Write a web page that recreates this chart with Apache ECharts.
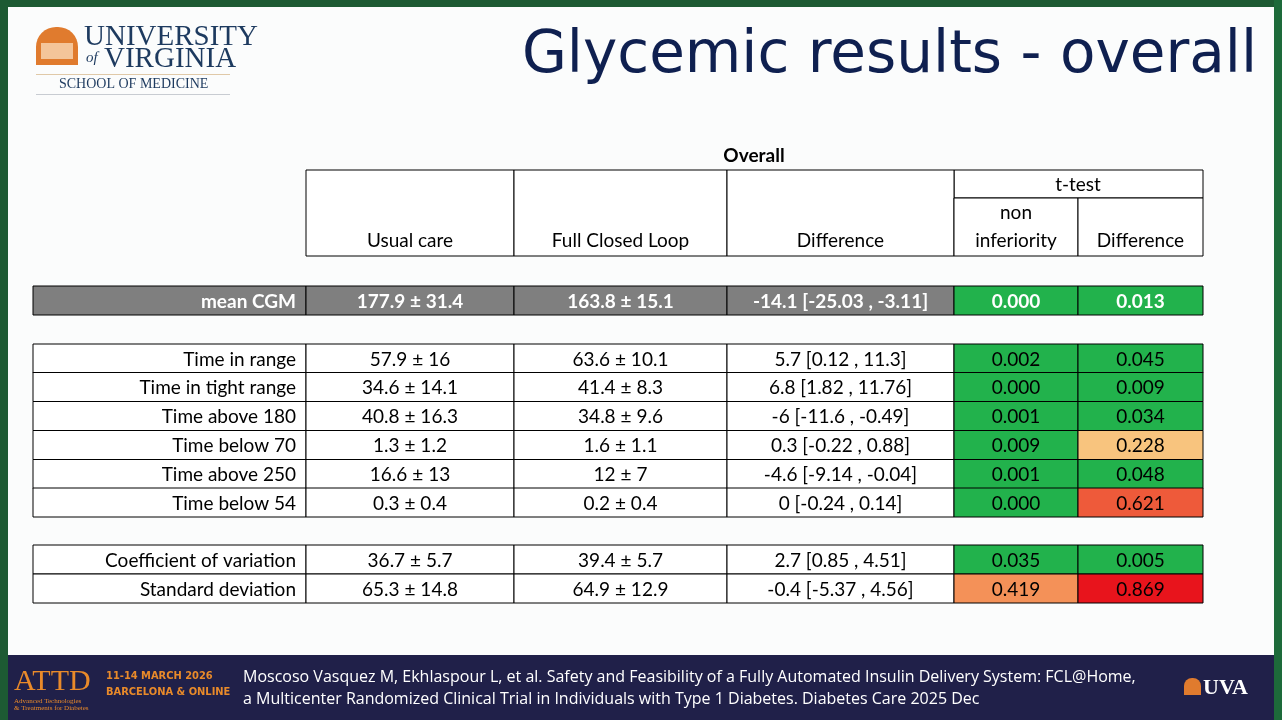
<!DOCTYPE html>
<html><head><meta charset="utf-8">
<script src="https://cdn.jsdelivr.net/npm/echarts@6/dist/echarts.min.js"></script>
<style>html,body{margin:0;padding:0;background:#fff}#main{width:1282px;height:720px}</style>
</head><body><div id="main"></div>
<script>
// table values
var rowLabels = ['mean CGM', 'Time in range', 'Time in tight range', 'Time above 180', 'Time below 70',
  'Time above 250', 'Time below 54', 'Coefficient of variation', 'Standard deviation'];
var usualCare = ['177.9 ± 31.4', '57.9 ± 16', '34.6 ± 14.1', '40.8 ± 16.3', '1.3 ± 1.2', '16.6 ± 13', '0.3 ± 0.4', '36.7 ± 5.7', '65.3 ± 14.8'];
var fullClosedLoop = ['163.8 ± 15.1', '63.6 ± 10.1', '41.4 ± 8.3', '34.8 ± 9.6', '1.6 ± 1.1', '12 ± 7', '0.2 ± 0.4', '39.4 ± 5.7', '64.9 ± 12.9'];
var difference = ['-14.1 [-25.03 , -3.11]', '5.7 [0.12 , 11.3]', '6.8 [1.82 , 11.76]', '-6 [-11.6 , -0.49]', '0.3 [-0.22 , 0.88]',
  '-4.6 [-9.14 , -0.04]', '0 [-0.24 , 0.14]', '2.7 [0.85 , 4.51]', '-0.4 [-5.37 , 4.56]'];
var pNonInferiority = ['0.000', '0.002', '0.000', '0.001', '0.009', '0.001', '0.000', '0.035', '0.419'];
var pDifference = ['0.013', '0.045', '0.009', '0.034', '0.228', '0.048', '0.621', '0.005', '0.869'];

// layout
var colEdges = [33, 306, 514, 727, 954, 1078, 1203];
var rowTops = [286, 344, 372.5, 401.5, 430.5, 459.5, 488, 545, 574];
var rowH = 29;
var FONT = 'Lato';

function pColor(p) {
  p = parseFloat(p);
  if (p < 0.05) return '#22b24c';
  if (p < 0.3) return '#f8c47e';
  if (p < 0.5) return '#f49158';
  if (p < 0.7) return '#ee5a3a';
  return '#e8141c';
}

var cellData = [];
rowLabels.forEach(function (r, i) {
  var vals = [r, usualCare[i], fullClosedLoop[i], difference[i], pNonInferiority[i], pDifference[i]];
  vals.forEach(function (v, j) { cellData.push([j, i, v]); });
});

var headerData = [
  [1, 'Usual care'], [2, 'Full Closed Loop'], [3, 'Difference'], [4, 'non\ninferiority'], [5, 'Difference']
];

function renderCell(params, api) {
  var c = api.value(0), r = api.value(1), txt = cellData[params.dataIndex][2];
  var p0 = api.coord([colEdges[c], rowTops[r]]);
  var p1 = api.coord([colEdges[c + 1], rowTops[r] + rowH]);
  var fill = '#fff', color = '#000', bold = 'normal';
  if (r === 0) { fill = '#7f7f7f'; color = '#fff'; bold = 'bold'; }
  if (c === 4) fill = pColor(pNonInferiority[r]);
  if (c === 5) fill = pColor(pDifference[r]);
  var w = p1[0] - p0[0], h = p1[1] - p0[1];
  return {
    type: 'group', children: [
      { type: 'rect', shape: { x: p0[0], y: p0[1], width: w, height: h },
        style: { fill: fill, stroke: '#000', lineWidth: 1 } },
      { type: 'text', style: {
        text: txt, x: c === 0 ? p1[0] - 10 : p0[0] + w / 2, y: p0[1] + h / 2 + 1,
        align: c === 0 ? 'right' : 'center', verticalAlign: 'middle',
        font: bold + ' 19px ' + FONT, fill: color } }
    ]
  };
}

function renderHeader(params, api) {
  var c = headerData[params.dataIndex][0], txt = headerData[params.dataIndex][1];
  var top = c >= 4 ? 198 : 170;
  var p0 = api.coord([colEdges[c], top]);
  var p1 = api.coord([colEdges[c + 1], 256]);
  var w = p1[0] - p0[0];
  return {
    type: 'group', children: [
      { type: 'rect', shape: { x: p0[0], y: p0[1], width: w, height: p1[1] - p0[1] },
        style: { fill: '#fff', stroke: '#000', lineWidth: 1 } },
      { type: 'text', style: { text: txt, x: p0[0] + w / 2, y: p1[1] - 1, align: 'center',
        verticalAlign: 'bottom', font: '19px ' + FONT, fill: '#000', lineHeight: 28 } }
    ]
  };
}

var myChart = echarts.init(document.getElementById('main'));
var option = {
  backgroundColor: '#fbfcfc',
  animation: false,
  grid: { left: 0, right: 0, top: 0, bottom: 0 },
  xAxis: { type: 'value', min: 0, max: 1282, show: false },
  yAxis: { type: 'value', min: 0, max: 720, inverse: true, show: false },
  graphic: [
    // frame
    { type: 'rect', shape: { x: 0, y: 0, width: 1282, height: 7 }, style: { fill: '#1d5a33' } },
    { type: 'rect', shape: { x: 0, y: 0, width: 8, height: 720 }, style: { fill: '#1d5a33' } },
    { type: 'rect', shape: { x: 1274, y: 0, width: 8, height: 720 }, style: { fill: '#1d6a3a' } },
    // logo
    { type: 'group', left: 36, top: 23, children: [
      { type: 'rect', shape: { x: 0, y: 4, width: 42, height: 38, r: [20, 20, 0, 0] }, style: { fill: '#e07b2e' } },
      { type: 'rect', shape: { x: 5, y: 20, width: 32, height: 16 }, style: { fill: '#f4c59a' } },
      { type: 'text', style: { text: 'UNIVERSITY', x: 48, y: 0, font: '29px "Liberation Serif"', fill: '#1d3a5f' } },
      { type: 'text', style: { text: 'of', x: 50, y: 28, font: 'italic 15px "Liberation Serif"', fill: '#1d3a5f' } },
      { type: 'text', style: { text: 'VIRGINIA', x: 68, y: 22, font: '29px "Liberation Serif"', fill: '#1d3a5f' } },
      { type: 'rect', shape: { x: 0, y: 51, width: 194, height: 1 }, style: { fill: '#e0c9a8' } },
      { type: 'text', style: { text: 'SCHOOL OF MEDICINE', x: 23, y: 54, font: '14px "Liberation Serif"', fill: '#1d3a5f' } },
      { type: 'rect', shape: { x: 0, y: 71, width: 194, height: 1 }, style: { fill: '#c8ccd2' } }
    ] },
    // title
    { type: 'text', style: { text: 'Glycemic results - overall', x: 1257, y: 57, align: 'right', verticalAlign: 'middle',
      font: '58px "DejaVu Sans"', fill: '#0f2050' } },
    { type: 'text', style: { text: 'Overall', x: 754, y: 156, align: 'center', verticalAlign: 'middle',
      font: 'bold 19px ' + FONT, fill: '#000' } },
    { type: 'rect', shape: { x: 954, y: 170, width: 249, height: 28 }, style: { fill: '#fff', stroke: '#000', lineWidth: 1 } },
    { type: 'text', style: { text: 't-test', x: 1078, y: 185, align: 'center', verticalAlign: 'middle', font: '19px ' + FONT, fill: '#000' } },
    // footer
    { type: 'rect', shape: { x: 8, y: 655, width: 1266, height: 65 }, style: { fill: '#202049' } },
    { type: 'text', style: { text: 'ATTD', x: 14, y: 667, font: '30px "Liberation Serif"', fill: '#e98a2a' } },
    { type: 'text', style: { text: 'Advanced Technologies\n& Treatments for Diabetes', x: 14, y: 698, font: '7px "Liberation Serif"', fill: '#e98a2a' } },
    { type: 'text', style: { text: '11-14 MARCH 2026\nBARCELONA & ONLINE', x: 106, y: 684, verticalAlign: 'middle', lineHeight: 16,
      font: 'bold 11px "DejaVu Sans Condensed"', fill: '#e98a2a' } },
    { type: 'text', style: { text: 'Moscoso Vasquez M, Ekhlaspour L, et al. Safety and Feasibility of a Fully Automated Insulin Delivery System: FCL@Home,\na Multicenter Randomized Clinical Trial in Individuals with Type 1 Diabetes. Diabetes Care 2025 Dec',
      x: 243, y: 688, verticalAlign: 'middle', lineHeight: 22, font: '16px "Open Sans"', fill: '#fff' } },
    { type: 'rect', shape: { x: 1184, y: 678, width: 17, height: 17, r: [8, 8, 0, 0] }, style: { fill: '#e07b2e' } },
    { type: 'text', style: { text: 'UVA', x: 1203, y: 688, verticalAlign: 'middle', font: 'bold 22px "Liberation Serif"', fill: '#fff' } }
  ],
  series: [
    { type: 'custom', renderItem: renderHeader, data: headerData.map(function (d) { return [d[0], 0]; }), silent: true },
    { type: 'custom', renderItem: renderCell, data: cellData.map(function (d) { return [d[0], d[1]]; }), silent: true }
  ]
};
myChart.setOption(option);
</script>
</body></html>
